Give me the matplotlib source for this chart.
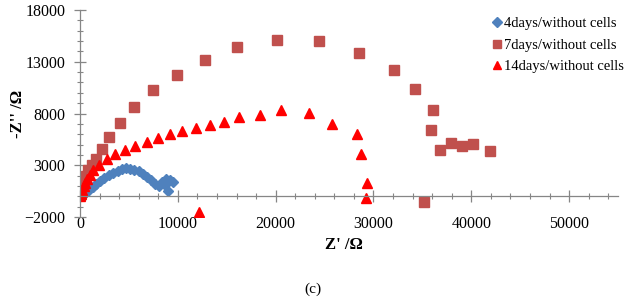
import matplotlib.pyplot as plt
from matplotlib.ticker import MultipleLocator

# 4 days / without cells
z_re_4 = [204, 408, 663, 918, 1296, 1633, 2041, 2480, 2929, 3398, 3847, 4286,
          4694, 5133, 5541, 5990, 6398, 6806, 7245, 7653, 8031, 8367, 8776,
          9214, 9459, 8704, 8949]
z_im_4 = [0, 195, 390, 634, 878, 1171, 1463, 1805, 2049, 2293, 2488, 2634,
          2732, 2683, 2585, 2439, 2195, 1902, 1561, 1220, 976, 1415, 1707,
          1561, 1337, 1073, 517]

# 7 days / without cells
z_re_7 = [20, 60, 130, 250, 400, 600, 850, 1200, 1633, 2214, 2959, 4082, 5510,
          7418, 9867, 12755, 16050, 20170, 24420, 28500, 32110, 34210, 36090,
          35920, 36810, 37960, 39080, 40170, 41870, 35170]
z_im_7 = [80, 300, 650, 1050, 1500, 2000, 2500, 3000, 3580, 4615, 5727, 7093,
          8615, 10244, 11707, 13200, 14410, 15122, 15024, 13854, 12224, 10410,
          8293, 6410, 4459, 5171, 4907, 5102, 4420, -585]

# 14 days / without cells
z_re_14 = [30, 80, 150, 250, 380, 550, 750, 1000, 1357, 1969, 2724, 3602, 4622,
           5643, 6806, 7959, 9184, 10439, 11837, 13265, 14694, 16255, 18370,
           20510, 23400, 25745, 28296, 28704, 29357, 29255, 12143]
z_im_14 = [50, 200, 400, 650, 950, 1300, 1700, 2100, 2537, 3054, 3580, 4098,
           4517, 4907, 5239, 5629, 5980, 6341, 6605, 6859, 7190, 7639, 7834,
           8293, 8068, 7024, 5980, 4098, 1268, -127, -1561]

labels = ["4days/without cells", "7days/without cells", "14days/without cells"]

plt.rcParams['font.family'] = ['Liberation Serif', 'DejaVu Serif']

fig = plt.figure(figsize=(6.26, 3.01), dpi=100)
ax = fig.add_axes([0.1278, 0.279, 0.8594, 0.6877])

ax.plot(z_re_4, z_im_4, ls='none', marker='D', ms=5.5, color='#4F81BD',
        label=labels[0])
ax.plot(z_re_7, z_im_7, ls='none', marker='s', ms=6.8, color='#C0504D',
        label=labels[1])
ax.plot(z_re_14, z_im_14, ls='none', marker='^', ms=7.5, color='#FF0000',
        label=labels[2])

ax.set_xlim(0, 55000)
ax.set_ylim(-2000, 18000)
ax.xaxis.set_major_locator(MultipleLocator(10000))
ax.xaxis.set_minor_locator(MultipleLocator(2000))
ax.yaxis.set_minor_locator(MultipleLocator(1000))
ax.set_yticks([-2000, 3000, 8000, 13000, 18000])

for s in ['top', 'right']:
    ax.spines[s].set_visible(False)
ax.spines['bottom'].set_position(('data', 0))
for s in ['left', 'bottom']:
    ax.spines[s].set_color('#868686')
    ax.spines[s].set_linewidth(0.9)

ax.tick_params(which='major', direction='inout', length=9, width=0.9,
               color='#868686', labelsize=11.5)
ax.tick_params(which='minor', direction='inout', length=4, width=0.8,
               color='#868686')
ax.tick_params(axis='x', which='major', pad=10)
ax.tick_params(axis='y', which='major', pad=6)

ax.set_xlabel("Z' /Ω", fontsize=12, fontweight='bold')
ax.xaxis.set_label_coords(0.49, -0.097)
ax.set_ylabel("-Z'' /Ω", fontsize=12, fontweight='bold')
ax.yaxis.set_label_coords(-0.1, 0.5)

ax.legend(loc='upper left', bbox_to_anchor=(0.765, 0.965), frameon=False,
          fontsize=10.5, handlelength=0.7, handletextpad=0.15,
          labelspacing=0.55, borderaxespad=0, borderpad=0, markerscale=0.85)

fig.text(0.5, 0.04, "(c)", ha='center', va='center', fontsize=11)

fig.savefig('out.png', dpi=100)
